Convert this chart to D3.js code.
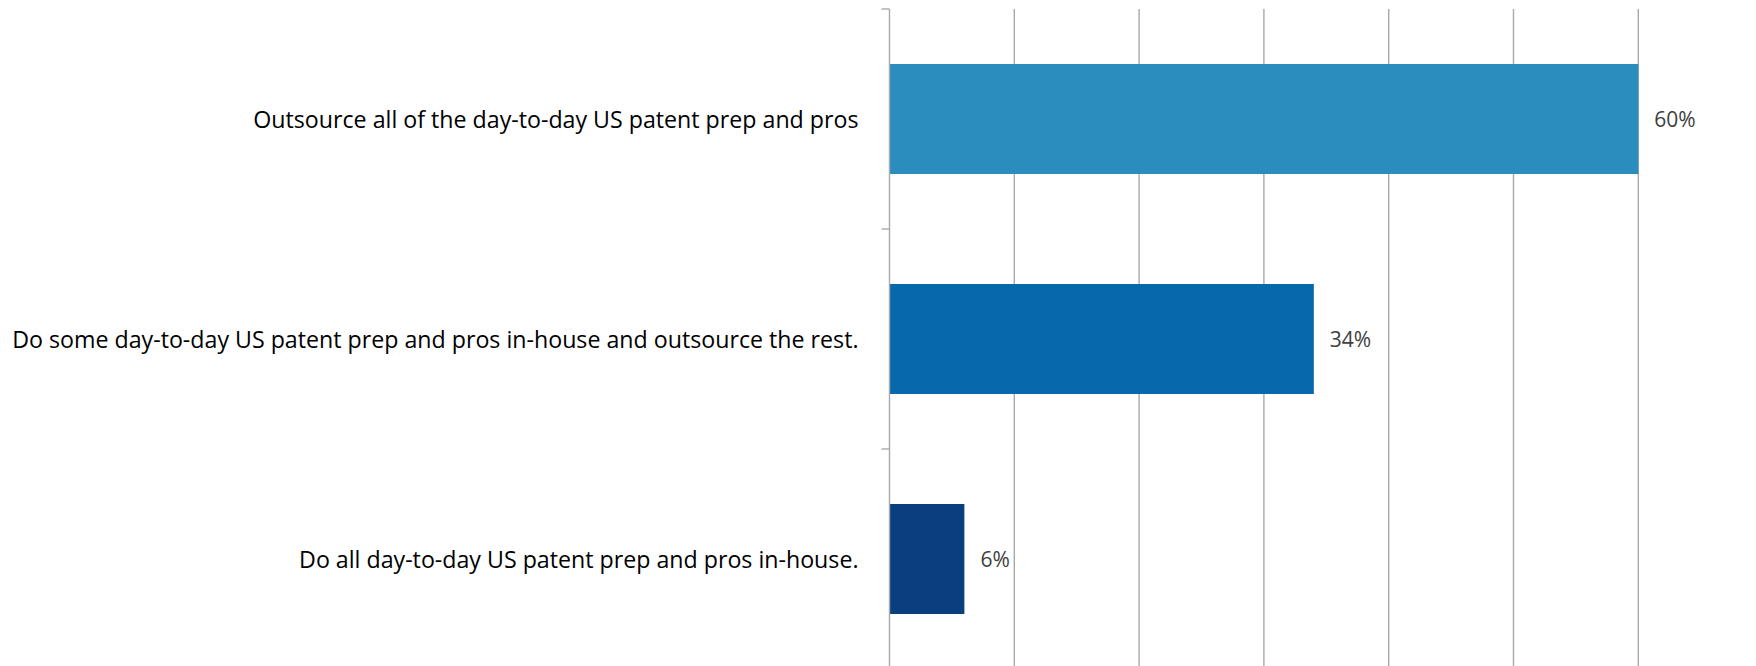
<!DOCTYPE html>
<html>
<head>
<meta charset="utf-8">
<script src="https://cdn.jsdelivr.net/npm/d3@7"></script>
<style>
  html, body { margin: 0; padding: 0; background: #fff; }
  svg { display: block; }
</style>
</head>
<body>
<div id="chart"></div>
<script>
// Survey responses: how day-to-day US patent prep and pros work is handled
const categories = [
  "Outsource all of the day-to-day US patent prep and pros",
  "Do some day-to-day US patent prep and pros in-house and outsource the rest.",
  "Do all day-to-day US patent prep and pros in-house."
];
const values = [60, 34, 6];
const barColors = ["#2b8cbe", "#0868ac", "#0a3f7f"];
const xTicks = [0, 10, 20, 30, 40, 50, 60];

const width = 1756, height = 666;
const margin = { top: 9, left: 889.5 };
const plotW = 748.8;
const plotH = 660;

const svg = d3.select("#chart").append("svg")
  .attr("width", width)
  .attr("height", height);

const x = d3.scaleLinear().domain([0, 60]).range([margin.left, margin.left + plotW]);
const y = d3.scaleBand().domain(categories).range([margin.top, margin.top + plotH]).paddingInner(0.5).paddingOuter(0.25);

// vertical gridlines
svg.append("g")
  .selectAll("line")
  .data(xTicks.slice(1))
  .join("line")
  .attr("x1", d => x(d)).attr("x2", d => x(d))
  .attr("y1", margin.top).attr("y2", margin.top + plotH)
  .attr("stroke", "#a9a9a9")
  .attr("stroke-width", 1.4);

// bars
svg.append("g")
  .selectAll("rect")
  .data(values)
  .join("rect")
  .attr("x", x(0))
  .attr("y", (d, i) => y(categories[i]))
  .attr("width", d => x(d) - x(0))
  .attr("height", y.bandwidth())
  .attr("fill", (d, i) => barColors[i]);

// category axis with boundary ticks
const axisG = svg.append("g");
axisG.append("line")
  .attr("x1", x(0)).attr("x2", x(0))
  .attr("y1", margin.top).attr("y2", margin.top + plotH)
  .attr("stroke", "#a9a9a9").attr("stroke-width", 1.4);
const bounds = d3.range(categories.length + 1).map(i => margin.top + i * (plotH / categories.length));
axisG.selectAll("line.tick")
  .data(bounds)
  .join("line")
  .attr("class", "tick")
  .attr("x1", x(0) - 8).attr("x2", x(0))
  .attr("y1", d => d).attr("y2", d => d)
  .attr("stroke", "#a9a9a9").attr("stroke-width", 1.4);

// category labels
svg.append("g")
  .selectAll("text")
  .data(categories)
  .join("text")
  .attr("x", x(0) - 31)
  .attr("y", d => y(d) + y.bandwidth() / 2)
  .attr("text-anchor", "end")
  .attr("dominant-baseline", "central")
  .attr("font-family", "'Open Sans', 'Noto Sans', sans-serif")
  .attr("font-size", 23.2)
  .attr("fill", "#000")
  .text(d => d);

// value labels
svg.append("g")
  .selectAll("text")
  .data(values)
  .join("text")
  .attr("x", d => x(d) + 16)
  .attr("y", (d, i) => y(categories[i]) + y.bandwidth() / 2)
  .attr("dominant-baseline", "central")
  .attr("font-family", "'Open Sans', 'Noto Sans', sans-serif")
  .attr("font-size", 21)
  .attr("fill", "#404040")
  .text(d => d + "%");
</script>
</body>
</html>
